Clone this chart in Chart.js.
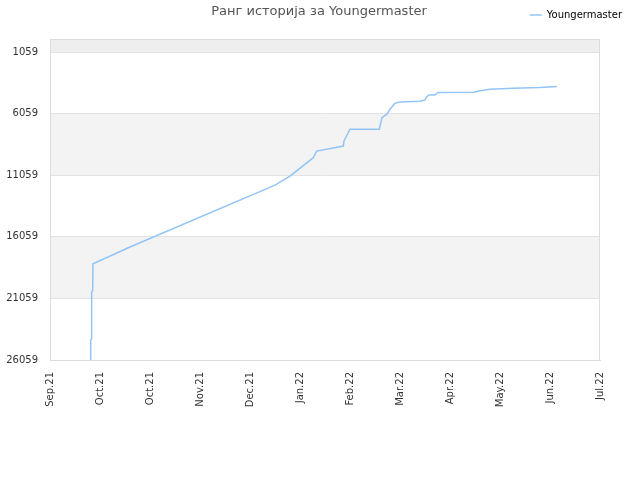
<!DOCTYPE html>
<html>
<head>
<meta charset="utf-8">
<script src="https://cdn.jsdelivr.net/npm/chart.js@4.4.1/dist/chart.umd.min.js"></script>
<style>
    html, body { margin: 0; padding: 0; background: #fff; }
    #wrap { width: 640px; height: 480px; }
</style>
</head>
<body>
<div id="wrap"><canvas id="rankChart"></canvas></div>
<script>
var chartTitle = 'Ранг историја за Youngermaster';
var seriesLabel = 'Youngermaster';
var monthLabels = ['Sep.21', 'Oct.21', 'Oct.21', 'Nov.21', 'Dec.21', 'Jan.22', 'Feb.22', 'Mar.22', 'Apr.22', 'May.22', 'Jun.22', 'Jul.22'];
var monthStep = 30;
var rankTicks = [1059, 6059, 11059, 16059, 21059, 26059];

// days since start of axis, and rank at that day
var dayValues = [24.4, 24.4, 25.0, 25.0, 25.6, 25.8, 48, 135, 144, 158, 160, 176, 176.4, 180, 197.6, 198, 199.2, 202.2, 204, 207, 210, 222, 225, 225.6, 227.4, 231, 232.8, 254.4, 258, 264, 277.8, 294, 304.2];
var rankValues = [26059, 24430, 24350, 20521, 20440, 18241, 16881, 11865, 11132, 9634, 9096, 8689, 8282, 7329, 7329, 7061, 6376, 6108, 5700, 5212, 5106, 5049, 4943, 4748, 4536, 4536, 4341, 4316, 4210, 4072, 3990, 3934, 3852];

function buildRankChart(elementId) {
    var canvas = document.getElementById(elementId);
    var points = dayValues.map(function (d, i) { return { x: d, y: rankValues[i] }; });

    var bandPlugin = {
        id: 'bands',
        beforeDraw: function (chart) {
            var ctx = chart.ctx;
            var area = chart.chartArea;
            var y = chart.scales.y;
            var edges = [y.min].concat(rankTicks);
            ctx.save();
            for (var i = 0; i < edges.length - 1; i++) {
                var top = y.getPixelForValue(edges[i]);
                var bottom = y.getPixelForValue(edges[i + 1]);
                if (i === 0) ctx.fillStyle = '#eeeeee';
                else ctx.fillStyle = (i % 2 === 0) ? '#f3f3f3' : '#ffffff';
                ctx.fillRect(area.left, top, area.right - area.left, bottom - top);
            }
            ctx.restore();
        },
        beforeDatasetsDraw: function (chart) {
            var ctx = chart.ctx;
            var area = chart.chartArea;
            ctx.save();
            ctx.strokeStyle = '#dddddd';
            ctx.lineWidth = 1;
            ctx.strokeRect(area.left + 0.5, area.top + 0.5, area.right - area.left - 1, area.bottom - area.top);
            ctx.restore();
        },
        afterDraw: function (chart) {
            var ctx = chart.ctx;
            ctx.save();
            ctx.font = '13px "DejaVu Sans"';
            ctx.fillStyle = '#555555';
            ctx.textAlign = 'center';
            ctx.textBaseline = 'middle';
            ctx.fillText(chartTitle, 319, 12);
            ctx.restore();
        }
    };

    var data = {
        datasets: [{
            label: seriesLabel,
            data: points,
            borderColor: '#92c5f5',
            backgroundColor: '#92c5f5',
            borderWidth: 1.5,
            pointRadius: 0,
            tension: 0,
            fill: false
        }]
    };
    var config = {
        type: 'line',
        data: data,
        options: {
            responsive: true,
            maintainAspectRatio: false,
            animation: false,
            layout: {
                padding: { top: 0, right: 8, left: 0, bottom: 0 }
            },
            plugins: {
                legend: {
                    position: 'top',
                    align: 'end',
                    labels: {
                        usePointStyle: true,
                        pointStyle: 'line',
                        pointStyleWidth: 12,
                        padding: 10,
                        color: '#000',
                        font: { family: 'DejaVu Sans', size: 10 }
                    }
                },
                tooltip: { enabled: false }
            },
            scales: {
                x: {
                    type: 'linear',
                    min: 0,
                    max: (monthLabels.length - 1) * monthStep,
                    afterBuildTicks: function (scale) {
                        scale.ticks = monthLabels.map(function (l, i) { return { value: i * monthStep }; });
                    },
                    afterFit: function (scale) { scale.height = 120; },
                    grid: { display: false },
                    border: { display: true, color: '#dddddd' },
                    ticks: {
                        minRotation: 90,
                        maxRotation: 90,
                        padding: 4,
                        color: '#333',
                        font: { family: 'DejaVu Sans', size: 10 },
                        callback: function (value, index) { return monthLabels[index]; }
                    }
                },
                xTop: {
                    type: 'linear',
                    position: 'top',
                    min: 0,
                    max: 1,
                    afterFit: function (scale) { scale.height = 9; },
                    grid: { display: false },
                    border: { display: false },
                    ticks: { display: false }
                },
                y: {
                    reverse: true,
                    min: 0,
                    max: rankTicks[rankTicks.length - 1],
                    afterBuildTicks: function (scale) {
                        scale.ticks = rankTicks.map(function (v) { return { value: v }; });
                    },
                    afterFit: function (scale) { scale.width = 50; },
                    grid: { color: '#e2e2e2', drawTicks: false },
                    border: { display: true, color: '#dddddd' },
                    ticks: {
                        padding: 12,
                        color: '#333',
                        font: { family: 'DejaVu Sans', size: 10 },
                        callback: function (value) { return String(value); }
                    }
                },
                yRight: {
                    position: 'right',
                    min: 0,
                    max: 1,
                    afterFit: function (scale) { scale.width = 32; },
                    grid: { display: false },
                    border: { display: false },
                    ticks: { display: false }
                }
            }
        },
        plugins: [bandPlugin]
    };
    var chart = new Chart(canvas, config);
}

buildRankChart('rankChart');
</script>
</body>
</html>
